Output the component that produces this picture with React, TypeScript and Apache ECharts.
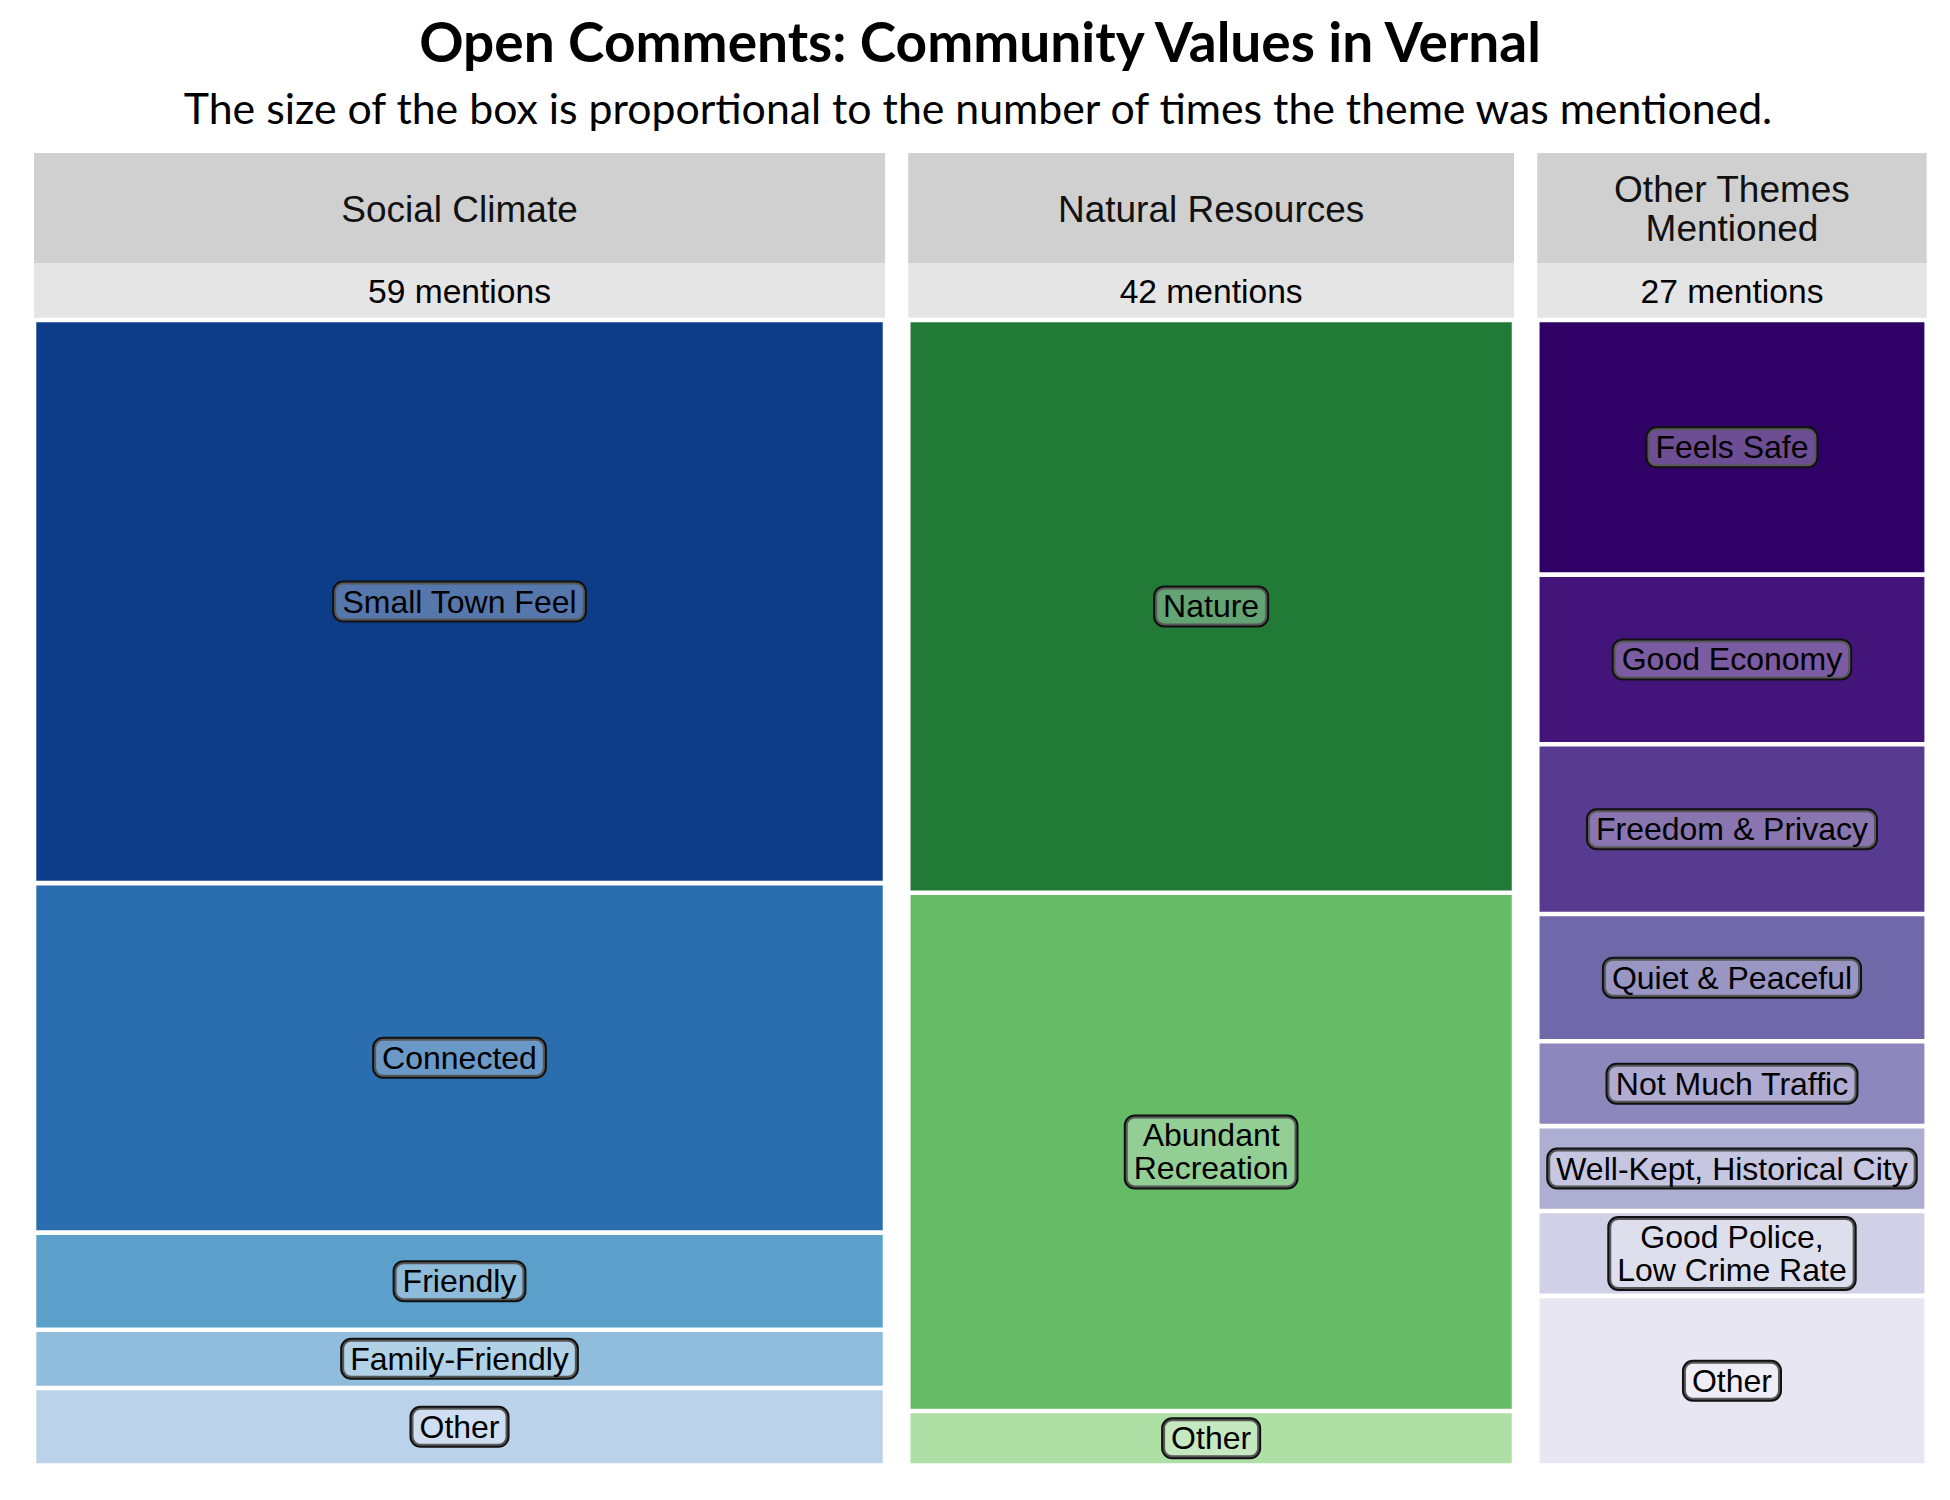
import React, { useEffect, useRef } from "react";
import * as echarts from "echarts";

// ---------- DATA ----------
const TITLE = "Open Comments: Community Values in Vernal";
const SUBTITLE = "The size of the box is proportional to the number of times the theme was mentioned.";

const groupNames = ["Social Climate", "Natural Resources", "Other Themes\nMentioned"];

const socialThemes = ["Small Town Feel", "Connected", "Friendly", "Family-Friendly", "Other"];
const socialCounts = [29, 18, 5, 3, 4];
const socialColors = ["#0d3d89", "#2a6eb0", "#5ba0cb", "#8fbddb", "#bbd2eb"];

const naturalThemes = ["Nature", "Abundant\nRecreation", "Other"];
const naturalCounts = [21, 19, 2];
const naturalColors = ["#217b37", "#65bb66", "#aedfa5"];

const otherThemes = [
  "Feels Safe",
  "Good Economy",
  "Freedom & Privacy",
  "Quiet & Peaceful",
  "Not Much Traffic",
  "Well-Kept, Historical City",
  "Good Police,\nLow Crime Rate",
  "Other",
];
const otherCounts = [6, 4, 4, 3, 2, 2, 2, 4];
const otherColors = ["#2f0066", "#43157a", "#573b90", "#6f69a9", "#8e87bd", "#aeaed3", "#d0d1e6", "#e8e6f2"];

const groups = [
  { name: groupNames[0], themes: socialThemes, counts: socialCounts, colors: socialColors },
  { name: groupNames[1], themes: naturalThemes, counts: naturalCounts, colors: naturalColors },
  { name: groupNames[2], themes: otherThemes, counts: otherCounts, colors: otherColors },
];

// ---------- LAYOUT ----------
const PLOT_LEFT = 34;
const PLOT_RIGHT = 1926.7;
const COL_GAP = 23.2;
const HEADER_TOP = 153;
const HEADER_H = 110;
const COUNT_H = 54.7;
const CONTENT_TOP = 320;
const CONTENT_BOTTOM = 1465.6;
const INSET = 2.3;
const LABEL_FONT = "Liberation Sans, Arial, sans-serif";

export default function App() {
  const ref = useRef<HTMLDivElement>(null);

  useEffect(() => {
    document.body.style.margin = "0";
    if (!ref.current) return;
    const chart = echarts.init(ref.current, undefined, { renderer: "svg" });

    const totals = groups.map((g) => g.counts.reduce((a, b) => a + b, 0));
    const grand = totals.reduce((a, b) => a + b, 0);
    const pxPer = (PLOT_RIGHT - PLOT_LEFT - COL_GAP * (groups.length - 1)) / grand;

    const lefts: number[] = [];
    let cx = PLOT_LEFT;
    totals.forEach((t) => {
      lefts.push(cx);
      cx += t * pxPer + COL_GAP;
    });
    const widths = totals.map((t) => t * pxPer);

    const grid = groups.map((g, i) => ({
      left: lefts[i],
      width: widths[i],
      top: CONTENT_TOP,
      height: CONTENT_BOTTOM - CONTENT_TOP,
    }));
    const xAxis = groups.map((g, i) => ({ gridIndex: i, type: "value", min: 0, max: 1, show: false }));
    const yAxis = groups.map((g, i) => ({
      gridIndex: i,
      type: "value",
      min: 0,
      max: totals[i],
      inverse: true,
      show: false,
    }));

    const series = groups.map((g, i) => {
      let cum = 0;
      const data = g.counts.map((c, j) => {
        const item = { value: [0.5, cum, cum + c, j], name: g.themes[j] };
        cum += c;
        return item;
      });
      return {
        type: "custom",
        xAxisIndex: i,
        yAxisIndex: i,
        encode: { x: 0, y: [1, 2] },
        data,
        renderItem: (params: any, api: any) => {
          const s = api.value(1);
          const e = api.value(2);
          const j = api.value(3);
          const p0 = api.coord([0, s]);
          const p1 = api.coord([1, e]);
          return {
            type: "rect",
            shape: {
              x: p0[0] + INSET,
              y: p0[1] + INSET,
              width: p1[0] - p0[0] - 2 * INSET,
              height: p1[1] - p0[1] - 2 * INSET,
            },
            style: { fill: g.colors[j] },
            textContent: {
              style: {
                text: g.themes[j],
                fill: "#000",
                fontSize: 32,
                fontFamily: LABEL_FONT,
                lineHeight: 33,
                align: "center",
                backgroundColor: "rgba(255,255,255,0.3)",
                borderColor: "#111",
                borderWidth: 2,
                borderRadius: 9,
                padding: [3, 8, 2, 8],
              },
            },
            textConfig: { position: "inside" },
          };
        },
      };
    });

    const graphics: any[] = [
      {
        type: "text",
        x: 980,
        y: 41,
        style: {
          text: TITLE,
          fill: "#000",
          font: "bold 55px Lato, sans-serif",
          align: "center",
          verticalAlign: "middle",
        },
      },
      {
        type: "text",
        x: 978,
        y: 107,
        style: {
          text: SUBTITLE,
          fill: "#000",
          font: "42.8px Lato, sans-serif",
          align: "center",
          verticalAlign: "middle",
        },
      },
    ];
    groups.forEach((g, i) => {
      graphics.push({
        type: "rect",
        shape: { x: lefts[i], y: HEADER_TOP, width: widths[i], height: HEADER_H },
        style: { fill: "#d0d0d0" },
      });
      graphics.push({
        type: "rect",
        shape: { x: lefts[i], y: HEADER_TOP + HEADER_H, width: widths[i], height: COUNT_H },
        style: { fill: "#e5e5e5" },
      });
      graphics.push({
        type: "text",
        x: lefts[i] + widths[i] / 2,
        y: HEADER_TOP + HEADER_H / 2 + 1,
        style: {
          text: g.name,
          fill: "#111",
          fontSize: 37,
          fontFamily: LABEL_FONT,
          lineHeight: 39,
          align: "center",
          verticalAlign: "middle",
        },
      });
      graphics.push({
        type: "text",
        x: lefts[i] + widths[i] / 2,
        y: HEADER_TOP + HEADER_H + COUNT_H / 2 + 1,
        style: {
          text: totals[i] + " mentions",
          fill: "#000",
          fontSize: 33.6,
          fontFamily: LABEL_FONT,
          align: "center",
          verticalAlign: "middle",
        },
      });
    });

    chart.setOption({
      animation: false,
      backgroundColor: "#ffffff",
      grid,
      xAxis,
      yAxis,
      series,
      graphic: graphics,
    });

    return () => chart.dispose();
  }, []);

  return <div ref={ref} style={{ width: 1950, height: 1500 }} />;
}
